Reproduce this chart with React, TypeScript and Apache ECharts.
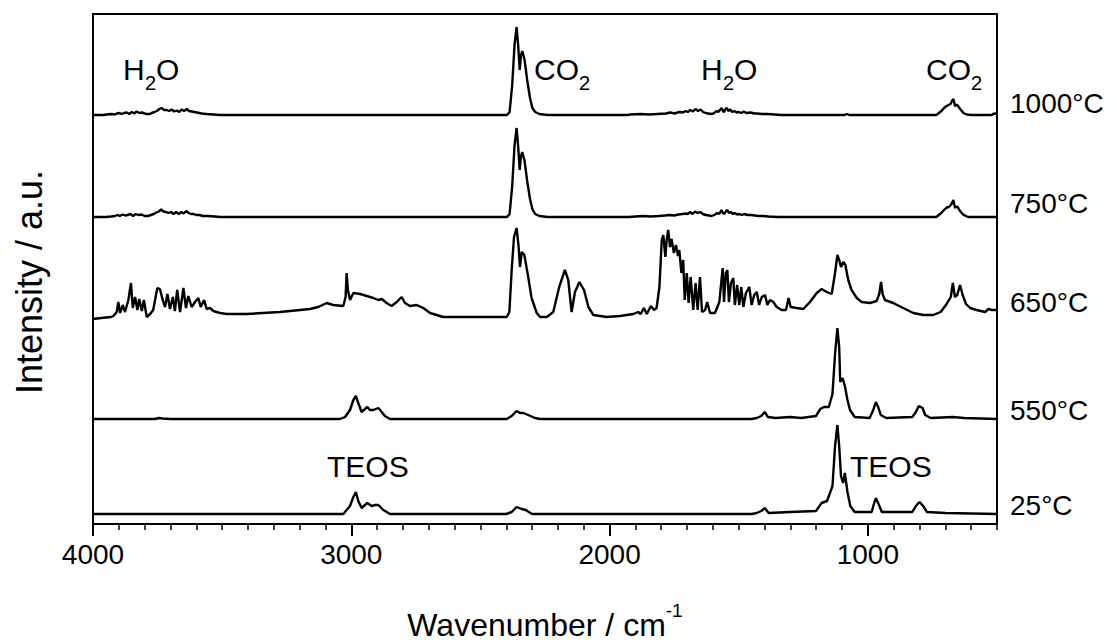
import React, { useEffect, useRef } from 'react';
import * as echarts from 'echarts';

const FONT = "'Liberation Sans', Arial, Helvetica, sans-serif";

// ---- axis ticks ----
const majorTickLabels = ['4000', '3500', '3000', '2500', '2000', '1500', '1000', '500'];

// ---- samples ----
const sampleNames = ['1000°C', '750°C', '650°C', '550°C', '25°C'];
const baselineOffsets = [409, 307, 207, 105, 10];

// [wavenumber cm-1, intensity above own baseline (a.u.)]
const spectrum1000: [number, number][] = [
  [4000, 0], [3960, 0], [3947, 0.5], [3930, 1], [3915, 0.5], [3908, 1.5], [3898, 2], [3889, 1], [3880, 2], [3870, 2.5],
  [3860, 1], [3850, 3], [3840, 1.5], [3831, 3.5], [3820, 2], [3811, 2.5], [3800, 1.5], [3792, 1], [3780, 1], [3773, 2],
  [3762, 3], [3753, 4], [3743, 6], [3734, 7], [3725, 5], [3715, 5], [3705, 4], [3695, 5.5], [3686, 3.5], [3676, 4.5],
  [3666, 3], [3657, 5.5], [3647, 4], [3637, 6], [3628, 4], [3618, 3.5], [3608, 3], [3598, 2.5], [3588, 2], [3579, 1.5],
  [3560, 1], [3534, 0.5], [3508, 0], [2800, 0], [2397, 0], [2387, 3], [2377, 30], [2368, 70], [2360, 88], [2354, 70],
  [2348, 45], [2343, 60], [2338, 64], [2329, 55], [2319, 35], [2308, 17], [2299, 7], [2288, 3], [2272, 1], [2240, 0],
  [1930, 0], [1919, 0.5], [1880, 1], [1847, 0.5], [1815, 1], [1782, 1.5], [1765, 2.5], [1749, 1.5], [1730, 3], [1716, 2.5],
  [1706, 4], [1697, 3], [1687, 5], [1677, 3.5], [1667, 6], [1657, 4], [1647, 5.5], [1638, 3], [1628, 2], [1618, 1.5],
  [1608, 1], [1598, 1.5], [1585, 4], [1579, 3], [1566, 7], [1560, 3.5], [1557, 3], [1550, 6.5], [1546, 7], [1540, 4],
  [1533, 5.5], [1525, 3], [1517, 4], [1508, 2.5], [1500, 3], [1490, 2], [1481, 3.5], [1470, 2], [1454, 2.5], [1440, 1.5],
  [1428, 1.5], [1410, 1], [1389, 1], [1360, 0.5], [1337, 0], [1090, 0], [1081, 1], [1072, 0], [760, 0], [735, 0],
  [715, 4], [705, 7], [695, 9], [688, 10], [680, 11], [674, 14], [669, 16], [665, 12], [663, 9], [658, 10],
  [654, 10], [648, 8], [643, 6], [636, 4], [630, 2], [617, 0.5], [600, 0], [520, 0], [515, 1], [508, 1.5], [500, 1],
];

const spectrum750: [number, number][] = [
  [4000, 0], [3950, 0], [3930, 0.5], [3915, 1], [3905, 2], [3896, 1], [3885, 2.5], [3875, 1.5], [3866, 2], [3855, 3],
  [3845, 1], [3835, 3], [3825, 2], [3812, 2.5], [3800, 1], [3788, 1], [3776, 2], [3765, 3], [3755, 4.5], [3745, 5.5],
  [3736, 7.5], [3727, 5.5], [3717, 5], [3708, 4], [3698, 5], [3688, 3], [3678, 5], [3668, 3], [3658, 5], [3649, 3.5],
  [3639, 6], [3630, 4], [3620, 3], [3610, 3], [3600, 2], [3588, 2], [3575, 1], [3555, 1], [3530, 0.5], [3505, 0],
  [2800, 0], [2397, 0], [2387, 3], [2377, 31], [2368, 71], [2360, 89], [2354, 71], [2348, 47], [2343, 61], [2338, 65],
  [2329, 56], [2319, 36], [2308, 18], [2299, 8], [2288, 3], [2272, 1], [2240, 0], [1925, 0], [1900, 0.5], [1870, 1],
  [1840, 0.5], [1810, 1], [1785, 1.5], [1768, 2], [1750, 1.5], [1733, 2.5], [1718, 3], [1708, 3.5], [1698, 3], [1688, 5],
  [1679, 3], [1669, 5.5], [1659, 4], [1649, 5], [1639, 3], [1627, 2], [1615, 1.5], [1605, 1], [1595, 2], [1583, 4],
  [1575, 3], [1567, 7], [1561, 4], [1556, 3], [1549, 6], [1544, 7], [1538, 4], [1531, 5], [1522, 3], [1515, 4],
  [1506, 2.5], [1497, 3], [1488, 2], [1478, 3], [1466, 2], [1452, 2], [1438, 1.5], [1424, 1], [1405, 1], [1385, 0.5],
  [1350, 0], [760, 0], [735, 0], [716, 4], [705, 7], [695, 9.5], [686, 10], [679, 12], [674, 14], [669, 17],
  [665, 12], [662, 9], [657, 10.5], [652, 10], [646, 7], [640, 5], [633, 3], [625, 1.5], [612, 0], [520, 0], [500, 0],
];

const spectrum650: [number, number][] = [
  [4000, -2], [3960, -0.7], [3930, 0], [3921, 1], [3908, 5], [3902, 15], [3895, 4], [3885, 12], [3876, 5], [3863, 17],
  [3853, 34], [3846, 9], [3837, 20], [3828, 7], [3821, 18], [3811, 6], [3803, 17], [3792, 0], [3779, 3], [3767, 7],
  [3751, 29], [3741, 28], [3730, 17], [3721, 10], [3712, 23], [3702, 8], [3691, 20], [3683, 6], [3674, 27], [3663, 5],
  [3650, 29], [3640, 9], [3631, 21], [3618, 10], [3605, 15], [3592, 19], [3583, 10], [3570, 17], [3560, 8], [3547, 9],
  [3534, 6], [3508, 4], [3482, 3], [3405, 3], [3276, 5], [3160, 8], [3128, 10], [3095, 14], [3070, 12], [3031, 11],
  [3022, 20], [3018, 44], [3013, 27], [3005, 17], [2992, 24], [2966, 23], [2940, 21], [2915, 19], [2895, 17], [2882, 18],
  [2863, 14], [2844, 11], [2824, 15], [2805, 20], [2792, 14], [2773, 11], [2747, 12], [2721, 9], [2695, 4], [2644, 0],
  [2398, 0], [2388, 5], [2379, 47], [2370, 80], [2360, 89], [2352, 70], [2347, 50], [2340, 65], [2330, 62], [2315, 40],
  [2302, 19], [2282, 4], [2269, 0], [2243, 0], [2218, 5], [2195, 30], [2173, 47], [2160, 37], [2147, 5], [2134, 25],
  [2117, 35], [2099, 27], [2082, 10], [2063, 2], [2011, 0], [1960, 1], [1934, 2], [1908, 3], [1889, 5], [1880, 3],
  [1867, 9], [1856, 3], [1840, 11], [1828, 7], [1818, 9], [1807, 30], [1798, 77], [1792, 82], [1784, 60], [1779, 77],
  [1773, 87], [1766, 70], [1760, 78], [1751, 64], [1743, 72], [1735, 61], [1730, 67], [1722, 44], [1715, 57], [1709, 17],
  [1701, 44], [1694, 14], [1686, 40], [1676, 7], [1667, 34], [1659, 7], [1650, 40], [1642, 5], [1630, 7], [1622, 15],
  [1611, 4], [1592, 4], [1575, 15], [1566, 39], [1562, 49], [1557, 15], [1550, 44], [1544, 47], [1538, 15], [1530, 34],
  [1521, 39], [1515, 12], [1506, 32], [1498, 12], [1490, 30], [1482, 10], [1472, 24], [1459, 30], [1450, 12], [1440, 22],
  [1430, 25], [1421, 12], [1411, 20], [1398, 22], [1389, 12], [1379, 17], [1366, 15], [1353, 10], [1334, 7], [1317, 7],
  [1307, 19], [1299, 10], [1276, 9], [1250, 8], [1224, 15], [1198, 24], [1179, 28], [1159, 25], [1140, 23], [1127, 44],
  [1118, 62], [1111, 57], [1104, 50], [1095, 55], [1087, 52], [1076, 37], [1063, 27], [1043, 19], [1024, 15], [992, 14],
  [966, 16], [956, 23], [949, 35], [943, 23], [934, 17], [902, 14], [863, 9], [824, 4], [785, 2], [747, 2],
  [718, 5], [695, 13], [679, 20], [671, 34], [663, 20], [654, 22], [643, 32], [633, 22], [620, 13], [604, 9],
  [579, 7], [546, 5], [533, 8], [520, 7], [507, 7], [500, 7],
];

const spectrum550: [number, number][] = [
  [4000, 0], [3900, 0], [3760, 0], [3745, 1], [3730, 0.5], [3700, 0], [3044, 0], [3024, 2], [3005, 9], [2992, 19],
  [2982, 23], [2973, 16], [2960, 7], [2947, 10], [2938, 12], [2928, 9], [2915, 9], [2895, 11], [2882, 7], [2870, 3],
  [2850, 0], [2398, 0], [2379, 3], [2360, 8], [2347, 6], [2334, 6], [2315, 4], [2289, 1], [2269, 0], [1450, 0],
  [1430, 1], [1413, 3], [1399, 7], [1387, 2], [1358, 1], [1301, 2], [1258, 1], [1201, 3], [1184, 10], [1170, 12],
  [1151, 12], [1137, 25], [1127, 65], [1118, 91], [1111, 72], [1107, 37], [1098, 41], [1089, 33], [1079, 19], [1069, 9],
  [1051, 2], [993, 1], [979, 9], [969, 17], [960, 12], [950, 4], [929, 1], [828, 2], [814, 7], [803, 13],
  [788, 11], [778, 4], [757, 1], [671, 2], [628, 1], [500, 0],
];

const spectrum25: [number, number][] = [
  [4000, 0], [3900, 0], [3031, 0], [3005, 8], [2992, 17], [2982, 22], [2973, 13], [2960, 6], [2947, 9], [2938, 11],
  [2921, 8], [2908, 9], [2895, 9], [2876, 4], [2850, 0], [2400, 0], [2379, 2], [2360, 7], [2340, 5], [2325, 4],
  [2300, 0], [1450, 0], [1430, 1], [1413, 3], [1399, 6], [1384, 1], [1301, 2], [1201, 3], [1179, 11], [1158, 13],
  [1137, 28], [1127, 68], [1118, 89], [1111, 68], [1104, 38], [1096, 31], [1089, 41], [1079, 22], [1068, 8], [1051, 2],
  [985, 2], [979, 8], [969, 16], [957, 9], [946, 2], [828, 2], [814, 8], [800, 12], [786, 8], [771, 2],
  [700, 1], [500, 0],
];

const spectra = [spectrum1000, spectrum750, spectrum650, spectrum550, spectrum25];

const isMajor = (_i: number, v: string) => Number(v) % 1000 === 0;

export default function App() {
  const ref = useRef<HTMLDivElement>(null);

  useEffect(() => {
    document.body.style.margin = '0';
    if (!ref.current) return;
    const chart = echarts.init(ref.current, null, { renderer: 'svg' });

    const txt = (s: any) => ({ fill: '#000', fontFamily: FONT, ...s });
    const t = (text: string, x: number, y: number, fontSize: number) => ({
      type: 'text', x, y,
      style: txt({ text, fontSize, align: 'left', verticalAlign: 'middle' }),
    });

    const rightLabelY = [103, 203, 302, 410, 505];

    const graphic: any[] = [
      ...sampleNames.map((name, i) => t(name, 1010, rightLabelY[i], 28)),
      // H2O (left)
      t('H', 123, 69, 30), t('2', 145, 83, 20), t('O', 156, 69, 30),
      // CO2 (2350)
      t('CO', 534, 69, 30), t('2', 579, 83, 20),
      // H2O (1600)
      t('H', 701, 69, 30), t('2', 723, 83, 20), t('O', 734, 69, 30),
      // CO2 (667)
      t('CO', 926, 69, 30), t('2', 971, 83, 20),
      // TEOS
      t('TEOS', 327, 466, 30), t('TEOS', 850, 466, 30),
      // y-axis title
      {
        type: 'text', x: 29, y: 282, rotation: Math.PI / 2,
        style: txt({ text: 'Intensity / a.u.', fontSize: 36, align: 'center', verticalAlign: 'middle' }),
      },
    ];

    chart.setOption({
      animation: false,
      backgroundColor: '#fff',
      grid: {
        left: 93, top: 14, width: 904, height: 510,
        show: true, borderColor: '#000', borderWidth: 2, backgroundColor: 'transparent',
        outerBoundsMode: 'none',
      },
      xAxis: [
        {
          type: 'value', min: 500, max: 4000, interval: 100, inverse: true, position: 'bottom',
          axisLine: { show: true, lineStyle: { color: '#000', width: 2 } },
          axisTick: { show: true, inside: false, length: 6, lineStyle: { color: '#000', width: 1.5 } },
          axisLabel: { show: false },
          splitLine: { show: false },
        },
        {
          type: 'category', data: majorTickLabels, boundaryGap: false, position: 'bottom',
          axisLine: { show: false },
          axisTick: { show: true, length: 12, interval: isMajor, lineStyle: { color: '#000', width: 2 } },
          axisLabel: { show: true, interval: isMajor, fontSize: 28, margin: 16, color: '#000', fontFamily: FONT },
          splitLine: { show: false },
          name: '{n|Wavenumber / cm}{s|-1}',
          nameLocation: 'middle',
          nameGap: 77,
          nameTextStyle: {
            color: '#000', fontFamily: FONT,
            rich: {
              n: { fontSize: 32, lineHeight: 40, verticalAlign: 'bottom', fontFamily: FONT, color: '#000' },
              s: { fontSize: 19, lineHeight: 19, verticalAlign: 'top', fontFamily: FONT, color: '#000' },
            },
          },
        },
      ],
      yAxis: {
        type: 'value', min: 0, max: 510,
        axisLine: { show: false }, axisTick: { show: false }, axisLabel: { show: false }, splitLine: { show: false },
      },
      graphic,
      series: spectra.map((sp, i) => ({
        name: sampleNames[i],
        type: 'line',
        xAxisIndex: 0,
        yAxisIndex: 0,
        showSymbol: false,
        silent: true,
        lineStyle: { color: '#000', width: 2.4 },
        data: sp.map(([w, v]) => [w, baselineOffsets[i] + v]),
      })),
    });

    return () => chart.dispose();
  }, []);

  return <div ref={ref} style={{ width: 1117, height: 644 }} />;
}
